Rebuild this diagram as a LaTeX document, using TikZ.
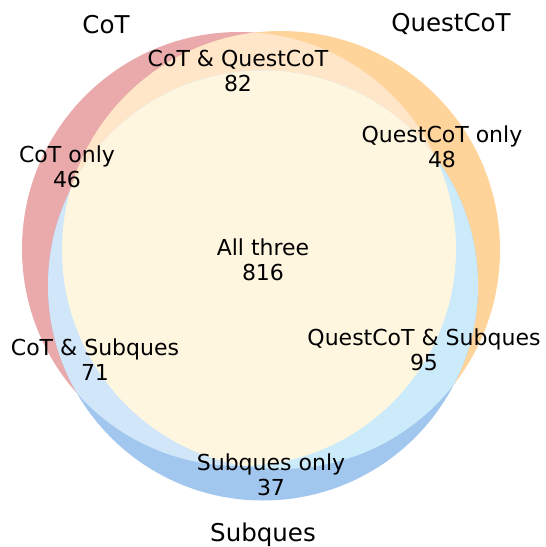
\documentclass[tikz,border=0pt]{standalone}
\usepackage{fontspec}
\setmainfont{DejaVu Sans}
\definecolor{cotonly}{HTML}{EAAAAC}
\definecolor{questonly}{HTML}{FFD49A}
\definecolor{subonly}{HTML}{A2C7EE}
\definecolor{cotquest}{HTML}{FFE6C8}
\definecolor{cotsub}{HTML}{D1E6F9}
\definecolor{questsub}{HTML}{CBEBFB}
\definecolor{allthree}{HTML}{FFF6E0}
\begin{document}
\begin{tikzpicture}[x=1pt,y=-1pt,
  every node/.style={align=center,font=\fontsize{22}{25}\selectfont},
  title/.style={anchor=base,font=\fontsize{24.5}{28}\selectfont}]
\newcommand{\cotset}{(C) circle[radius=217]}
\newcommand{\questset}{(Q) circle[radius=219]}
\newcommand{\subqset}{(S) circle[radius=215]}

\fill[white] (0,0) rectangle (546,547);
\useasboundingbox (0,0) rectangle (546,547);

\coordinate (C) at (239,249);
\coordinate (Q) at (281,250);
\coordinate (S) at (263,285.5);

% one set
\fill[cotonly] \cotset;
\fill[questonly] \questset;
\fill[subonly] \subqset;
% two sets
\begin{scope} \clip \cotset; \fill[cotquest] \questset; \end{scope}
\begin{scope} \clip \cotset; \fill[cotsub] \subqset; \end{scope}
\begin{scope} \clip \questset; \fill[questsub] \subqset; \end{scope}
% three sets
\begin{scope} \clip \cotset; \clip \questset; \fill[allthree] \subqset; \end{scope}

\node[title] (tcot) at (106,33) {CoT};
\node[title] (tquest) at (451,31) {QuestCoT};
\node[title] (tsub) at (263,541) {Subques};

\node (ncq) at (238,71) {CoT \& QuestCoT\\82};
\node (nc) at (67,167) {CoT only\\46};
\node (nq) at (442,147) {QuestCoT only\\48};
\node (ncqs) at (263,260) {All three\\816};
\node (ncs) at (95,360) {CoT \& Subques\\71};
\node (nqs) at (424,350) {QuestCoT \& Subques\\95};
\node (ns) at (271,475) {Subques only\\37};
\end{tikzpicture}
\end{document}
